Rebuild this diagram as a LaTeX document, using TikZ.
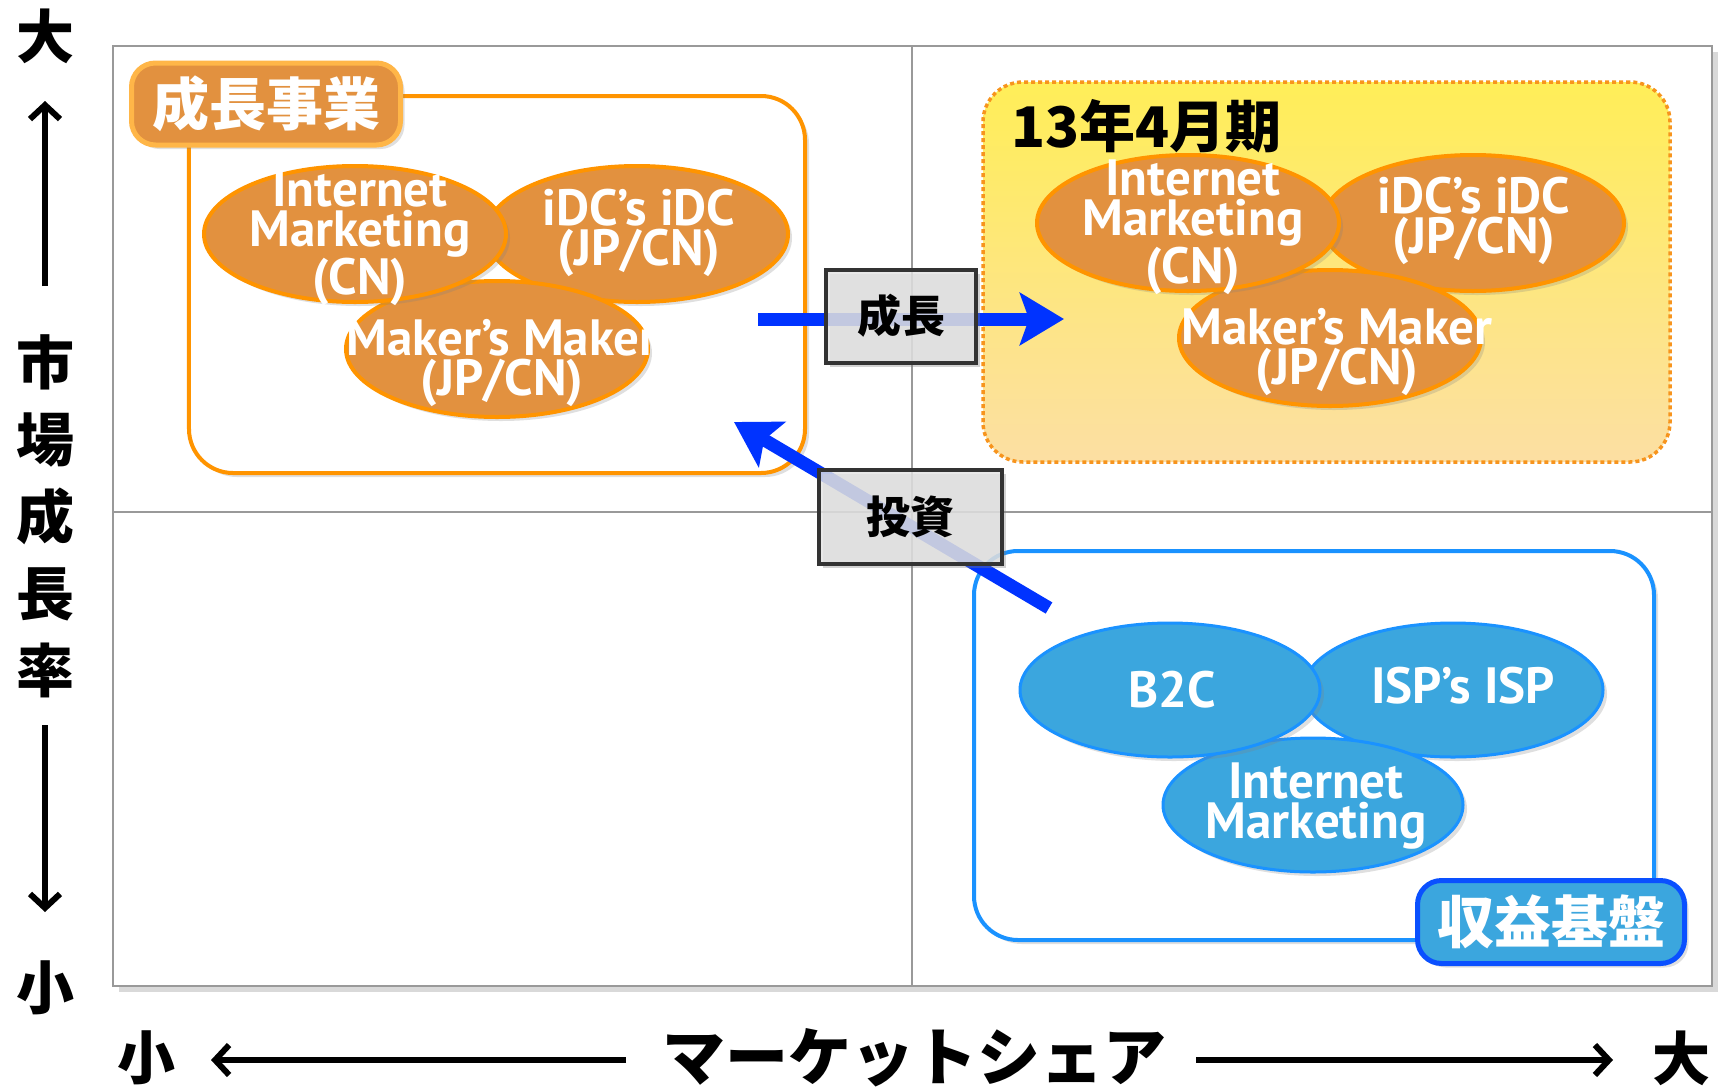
\documentclass[tikz,border=0pt]{standalone}
\usepackage{fontspec}
\newfontfamily\jp{Noto Sans CJK JP}
\newfontfamily\lat{PT Sans}
\usetikzlibrary{arrows.meta,shapes.geometric,shadows}
\definecolor{oraFill}{HTML}{E2913F}
\definecolor{oraLine}{HTML}{FF9400}
\definecolor{tagOLine}{HTML}{FFB648}
\definecolor{yelTop}{HTML}{FFEE58}
\definecolor{yelBot}{HTML}{FCDFA3}
\definecolor{dotLine}{HTML}{F7941D}
\definecolor{bluFill}{HTML}{3BA6DE}
\definecolor{bluLine}{HTML}{1A92FF}
\definecolor{tagBLine}{HTML}{0A50FF}
\definecolor{arrowBlue}{HTML}{0033FF}
\definecolor{frameGray}{HTML}{999999}
\definecolor{boxGray}{HTML}{E4E4E4}
\definecolor{boxLine}{HTML}{333333}
\begin{document}
\begin{tikzpicture}[x=1bp,y=-1bp,
  shad/.style={drop shadow={opacity=0.25,shadow xshift=4bp,shadow yshift=-4bp}},
  frame/.style={draw=frameGray,line width=2bp},
  grpO/.style={draw=oraLine,line width=4bp,fill=white,rounded corners=44bp,shad},
  grpB/.style={draw=bluLine,line width=4bp,fill=white,rounded corners=44bp,shad},
  grpY/.style={draw=dotLine,line width=3.5bp,dash pattern=on 4bp off 3bp,top color=yelTop,bottom color=yelBot,rounded corners=40bp},
  ovalO/.style={ellipse,draw=oraLine,fill=oraFill,line width=4bp,inner sep=0pt,minimum width=302bp,minimum height=136bp,shad},
  ovalB/.style={ellipse,draw=bluLine,fill=bluFill,line width=3bp,inner sep=0pt,minimum width=300bp,minimum height=134bp,shad},
  ovaltxt/.style={text=white,font=\lat\bfseries\fontsize{51bp}{40bp}\selectfont,align=center,inner sep=0pt},
  tagO/.style={draw=tagOLine,fill=oraFill,line width=5bp,rounded corners=24bp,minimum width=269bp,minimum height=82bp,text=white,font=\jp\bfseries\fontsize{57bp}{60bp}\selectfont,inner sep=0pt,shad},
  tagB/.style={draw=tagBLine,fill=bluFill,line width=5bp,rounded corners=24bp,minimum width=267bp,minimum height=83bp,text=white,font=\jp\bfseries\fontsize{57bp}{60bp}\selectfont,inner sep=0pt,shad},
  garrow/.style={draw=arrowBlue,line width=13bp,-{Stealth[length=44bp,width=52bp,inset=9bp]}},
  gbox/.style={draw=boxLine,line width=4bp,fill=boxGray,fill opacity=0.82,text opacity=1,text=black,font=\jp\bfseries\fontsize{44bp}{48bp}\selectfont,inner sep=0pt,drop shadow={opacity=0.35,shadow xshift=4bp,shadow yshift=-4bp}},
  axtxt/.style={text=black,font=\jp\bfseries\fontsize{58bp}{77bp}\selectfont,inner sep=0pt,align=center},
  axarrow/.style={draw=black,line width=6bp,-{Straight Barb[length=14bp,width=30bp,line width=6bp]}}
]
\useasboundingbox (0,0) rectangle (1723,1089);
\fill[white] (0,0) rectangle (1723,1089);

% outer frame
\fill[black,opacity=0.15] (119,52) rectangle (1718,992);
\fill[white] (113,46) rectangle (1712,986);
\draw[frame] (113,46) rectangle (1712,986);
\draw[frame] (912,46) -- (912,986);
\draw[frame] (113,512) -- (1712,512);

% growth business group
\node[grpO,minimum width=616bp,minimum height=377bp] (gO) at (497,284.5) {};
\node[ovalO] (o2) at (637,234) {};
\node[ovaltxt] at (639,233) {iDC’s iDC\\(JP/CN)};
\node[ovalO] (o3) at (497,349) {};
\node[ovaltxt] at (502,363) {Maker’s Maker\\(JP/CN)};
\node[ovalO] (o1) at (355,234) {};
\node[ovaltxt] at (360,238) {Internet\\Marketing\\(CN)};
\node[tagO] (tO) at (266,104) {成長事業};

% 13/4 group
\node[grpY,minimum width=687bp,minimum height=380bp] (gY) at (1326.5,272) {};
\node[text=black,font=\jp\bfseries\fontsize{56bp}{60bp}\selectfont,inner sep=0pt,anchor=west] (ty) at (1011,126) {13年4月期};
\node[ovalO] (y2) at (1473,223) {};
\node[ovaltxt] at (1474,221) {iDC’s iDC\\(JP/CN)};
\node[ovalO] (y3) at (1330,338) {};
\node[ovaltxt] at (1337,352) {Maker’s Maker\\(JP/CN)};
\node[ovalO] (y1) at (1188,223) {};
\node[ovaltxt] at (1193,227) {Internet\\Marketing\\(CN)};

% profit base group
\node[grpB,minimum width=680bp,minimum height=389bp] (gB) at (1314,745.5) {};
\node[ovalB] (b2) at (1453,690) {};
\node[ovaltxt] at (1463,686) {ISP’s ISP};
\node[ovalB] (b3) at (1313,805) {};
\node[ovaltxt] at (1316,806) {Internet\\Marketing};
\node[ovalB] (b1) at (1170,690) {};
\node[ovaltxt] at (1172,690) {B2C};
\node[tagB] (tB) at (1551,922) {収益基盤};

% arrows
\coordinate (g0) at (758,319);
\coordinate (g1) at (1064,319);
\draw[garrow] (g0) -- (g1);
\coordinate (i0) at (1049,608);
\coordinate (i1) at (734,422);
\draw[garrow] (i0) -- (i1);
\node[gbox,minimum width=150bp,minimum height=93bp] (bg) at (901,316) {成長};
\node[gbox,minimum width=183bp,minimum height=94bp] (bi) at (910,517) {投資};

% vertical axis
\node[axtxt] (vL) at (45,36) {大};
\node[axtxt] (vS) at (45,988) {小};
\node[axtxt] (vT) at (45,516) {市\\場\\成\\長\\率};
\coordinate (va0) at (45,286);
\coordinate (va1) at (45,101);
\coordinate (vb0) at (45,725);
\coordinate (vb1) at (45,912);
\draw[axarrow] (va0) -- (va1);
\draw[axarrow] (vb0) -- (vb1);

% horizontal axis
\node[axtxt] (hS) at (146,1058) {小};
\node[axtxt] (hL) at (1681,1058) {大};
\node[axtxt,font=\jp\bfseries\fontsize{63bp}{70bp}\selectfont] (hT) at (914,1058) {マーケットシェア};
\coordinate (ha0) at (626,1060);
\coordinate (ha1) at (211,1060);
\coordinate (hb0) at (1196,1060);
\coordinate (hb1) at (1613,1060);
\draw[axarrow] (ha0) -- (ha1);
\draw[axarrow] (hb0) -- (hb1);
\end{tikzpicture}
\end{document}
